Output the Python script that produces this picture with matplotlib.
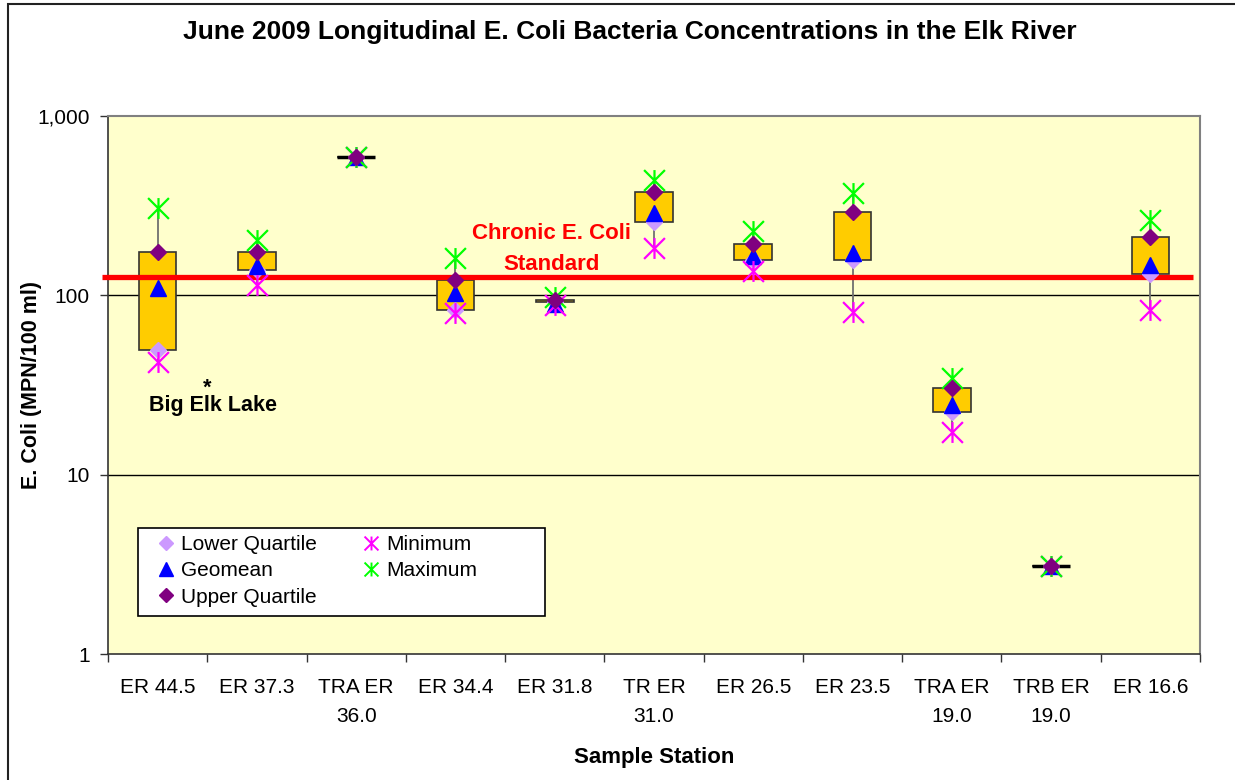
import numpy as np
import matplotlib
matplotlib.use('Agg')
import matplotlib.pyplot as plt
from matplotlib.path import Path
from matplotlib.lines import Line2D
from matplotlib.patches import Rectangle

plt.rcParams['font.family'] = ['Liberation Sans', 'DejaVu Sans']

# data (MPN/100 ml)
stations = ['ER 44.5', 'ER 37.3', 'TRA ER\n36.0', 'ER 34.4', 'ER 31.8', 'TR ER\n31.0',
            'ER 26.5', 'ER 23.5', 'TRA ER\n19.0', 'TRB ER\n19.0', 'ER 16.6']
lower_q = [49.6, 138, 590, 83, 92, 256, 157, 157, 22.3, 3.1, 131]
geomean = [110, 146, 590, 103, 89, 288, 166, 172, 24.6, 3.1, 148]
upper_q = [175, 175, 590, 122, 94, 376, 193, 291, 30.3, 3.1, 212]
minimum = [42.5, 114, 590, 79.5, 88, 183, 136, 80.5, 17.4, 3.1, 83]
maximum = [307, 204, 590, 161, 98, 440, 227, 371, 34.5, 3.1, 263]
standard = 126

# excel style asterisk: X plus a vertical stroke
star = Path([(0, -1), (0, 1), (-1, -1), (1, 1), (-1, 1), (1, -1)],
            [Path.MOVETO, Path.LINETO, Path.MOVETO, Path.LINETO, Path.MOVETO, Path.LINETO])

x = np.arange(len(stations))
lq = np.array(lower_q)
uq = np.array(upper_q)

fig = plt.figure(figsize=(12.35, 7.8), dpi=100)
ax = fig.add_axes([108/1235, 1-654/780, 1092/1235, 538/780])
ax.set_facecolor('#FFFFCC')

# outer chart frame
fig.patches.append(Rectangle((8/1235, -0.05), 1.1, 1.05 - 4/780, transform=fig.transFigure,
                             fill=False, edgecolor='#222222', linewidth=1.5))

ax.set_yscale('log')
ax.set_ylim(1, 1000)
ax.set_xlim(-0.5, len(stations) - 0.5)

for yv in [10, 100]:
    ax.axhline(yv, color='black', linewidth=1, zorder=1)

# whiskers
ax.vlines(x, minimum, maximum, color='#707070', linewidth=1.3, zorder=2)
# boxes
ax.bar(x, uq - lq, bottom=lq, width=0.38, color='#FFCC00', edgecolor='#333333',
       linewidth=1.2, zorder=3)
flat = uq == lq
ax.hlines(uq[flat], x[flat] - 0.19, x[flat] + 0.19, color='black', linewidth=2.5, zorder=3)

# standard line
ax.plot([-0.56, 10.43], [standard, standard], color='#FF0000', linewidth=3.8,
        zorder=4, clip_on=False, solid_capstyle='butt')

ax.plot(x, lower_q, linestyle='none', marker='D', markersize=8.5, color='#CC99FF', zorder=5)
ax.plot(x, geomean, linestyle='none', marker='^', markersize=12, color='#0000FF', zorder=6)
ax.plot(x, minimum, linestyle='none', marker=star, markersize=15, markeredgewidth=1.6,
        color='#FF00FF', zorder=7)
ax.plot(x, maximum, linestyle='none', marker=star, markersize=15, markeredgewidth=1.6,
        color='#00FF00', zorder=8)
ax.plot(x, upper_q, linestyle='none', marker='D', markersize=8.5, color='#800080', zorder=9)

# axes styling
for s in ['top', 'right']:
    ax.spines[s].set_color('#808080')
    ax.spines[s].set_linewidth(1.5)
for s in ['left', 'bottom']:
    ax.spines[s].set_color('#333333')
    ax.spines[s].set_linewidth(1.2)

ax.set_yticks([1, 10, 100, 1000])
ax.set_yticklabels(['1', '10', '100', '1,000'])
ax.yaxis.set_minor_locator(matplotlib.ticker.NullLocator())
ax.tick_params(axis='y', which='major', direction='out', length=6, width=1,
               color='#333333', labelsize=15, pad=7)

ax.set_xticks(x)
ax.set_xticklabels(stations, linespacing=1.7)
ax.set_xticks(np.arange(len(stations) + 1) - 0.5, minor=True)
ax.tick_params(axis='x', which='major', length=0, labelsize=15, pad=17)
ax.tick_params(axis='x', which='minor', direction='out', length=6, width=1, color='#333333')

ax.set_ylabel('E. Coli (MPN/100 ml)', fontsize=15.5, fontweight='bold')
ax.yaxis.set_label_coords(-0.060, 0.5)
ax.set_xlabel('Sample Station', fontsize=16, fontweight='bold', labelpad=15)

fig.text(630/1235, 1 - 32/780, 'June 2009 Longitudinal E. Coli Bacteria Concentrations in the Elk River',
         ha='center', va='center', fontsize=19, fontweight='bold')

ax.text(3.97, 181, 'Chronic E. Coli\nStandard', color='#FF0000', fontsize=16,
        fontweight='bold', ha='center', va='center', linespacing=1.6, zorder=10)
# asterisk note sits above the lake label in one text block
ax.text(0.557, 27.1, '*  \nBig Elk Lake', fontsize=15.5, fontweight='bold', ha='center',
        va='center', multialignment='center', linespacing=0.8)

# legend with a separate frame
ax.add_patch(Rectangle((30/1092, 38/538), 407/1092, 88/538, transform=ax.transAxes,
                       facecolor='white', edgecolor='black', linewidth=1.2, zorder=11))
handles = [
    Line2D([], [], linestyle='none', marker='D', markersize=7, color='#CC99FF'),
    Line2D([], [], linestyle='none', marker='^', markersize=10, color='#0000FF'),
    Line2D([], [], linestyle='none', marker='D', markersize=7, color='#800080'),
    Line2D([], [], linestyle='none', marker=star, markersize=10, markeredgewidth=1.4, color='#FF00FF'),
    Line2D([], [], linestyle='none', marker=star, markersize=10, markeredgewidth=1.4, color='#00FF00'),
]
labels = ['Lower Quartile', 'Geomean', 'Upper Quartile', 'Minimum', 'Maximum']
leg = ax.legend(handles, labels, ncol=2, loc='upper left', frameon=False,
                bbox_to_anchor=(47.6/1092, 1 - 419/538), fontsize=15, handlelength=1.0,
                handletextpad=0.22, columnspacing=2.1, labelspacing=0.35, borderpad=0,
                borderaxespad=0)
leg.set_zorder(12)

fig.savefig('out.png', dpi=100)
